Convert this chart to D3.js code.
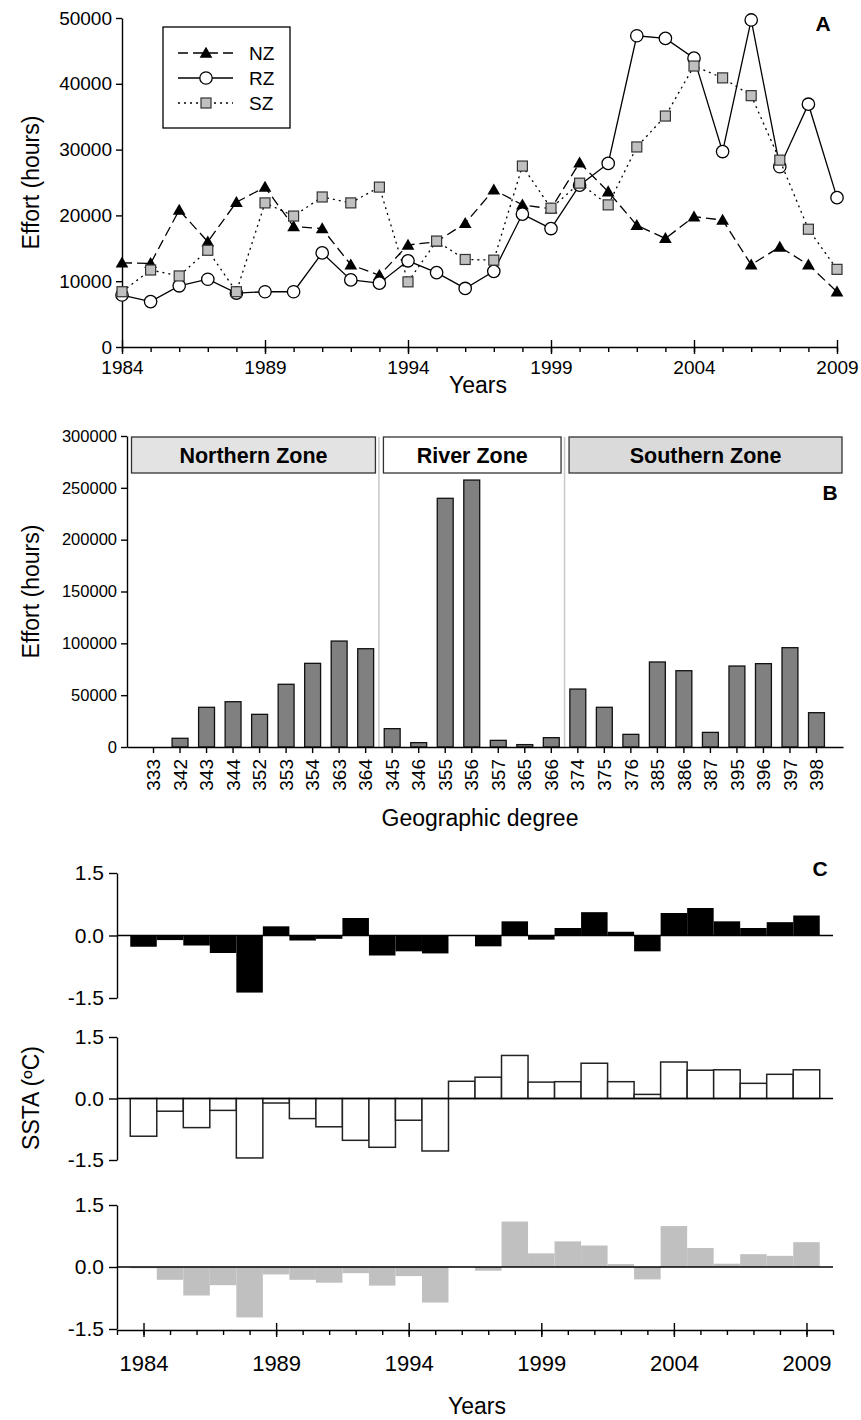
<!DOCTYPE html>
<html>
<head>
<meta charset="utf-8">
<script src="https://cdn.jsdelivr.net/npm/d3@7"></script>
<style>
  body { margin: 0; background: #fff; }
  svg text { font-family: "Liberation Sans", Arial, sans-serif; fill: #000; }
</style>
</head>
<body>
<script>
var w = 861;
var h = 1420;

// ---- data ----
var years = [1984,1985,1986,1987,1988,1989,1990,1991,1992,1993,1994,1995,1996,
             1997,1998,1999,2000,2001,2002,2003,2004,2005,2006,2007,2008,2009];

// Panel A: fishing effort by zone (hours)
var nzEffort = [12800,12700,20800,16000,22000,24300,18300,18000,12500,10900,15500,16000,18800,
                23900,21600,21000,28000,23600,18500,16500,19800,19300,12500,15200,12500,8400];
var rzEffort = [7900,6900,9300,10300,8200,8400,8400,14300,10200,9700,13100,11300,8900,
                11500,20200,18000,24600,27900,47300,46900,43900,29700,49700,27400,36900,22700];
var szEffort = [8400,11700,10800,14700,8400,21900,19900,22800,21900,24300,9900,16100,13300,
                13200,27500,21100,24900,21600,30400,35100,42700,40900,38200,28400,17900,11800];
var effortTicks = [0,10000,20000,30000,40000,50000];
var yearTicks = [1984,1989,1994,1999,2004,2009];

// Panel B: effort by geographic degree
var degrees = ["333","342","343","344","352","353","354","363","364",
               "345","346","355","356","357","365","366",
               "374","375","376","385","386","387","395","396","397","398"];
var degreeEffort = [0,8400,38300,43700,31500,60500,80700,102200,94800,
                    17700,4200,239900,257500,6400,2300,9000,
                    55900,38300,12200,82000,73600,14100,78100,80400,95800,33100];
var degreeTicks = [0,50000,100000,150000,200000,250000,300000];
var zones = ["Northern Zone","River Zone","Southern Zone"];
var zoneFirst = ["333","345","374"];
var zoneLast = ["364","366","398"];

// Panel C: SSTA (ºC) per zone
var sstaNZ = [-0.27,-0.11,-0.24,-0.42,-1.37,0.22,-0.12,-0.08,0.42,-0.48,-0.38,-0.43,0.01,
              -0.26,0.34,-0.10,0.18,0.56,0.09,-0.38,0.54,0.66,0.34,0.18,0.32,0.48];
var sstaRZ = [-0.92,-0.31,-0.71,-0.29,-1.45,-0.11,-0.49,-0.69,-1.02,-1.19,-0.53,-1.28,0.42,
              0.52,1.05,0.40,0.41,0.86,0.41,0.10,0.89,0.69,0.70,0.37,0.59,0.70];
var sstaSZ = [-0.03,-0.31,-0.69,-0.44,-1.22,-0.18,-0.31,-0.38,-0.15,-0.45,-0.22,-0.86,0.01,
              -0.09,1.10,0.33,0.62,0.52,0.07,-0.30,0.99,0.46,0.08,0.31,0.27,0.60];
var sstaTicks = [-1.5,0,1.5];

var titleFont = 23;
var plainNum = function(d) { return String(d); };
var oneDec = function(d) { return d.toFixed(1); };

var svg = d3.select("body")
            .append("svg")
            .attr("width", w)
            .attr("height", h);

// axis styling helper
function styleAxis(g, size) {
  g.selectAll("path, line").attr("stroke", "#000").attr("stroke-width", 1.4);
  g.selectAll("text").attr("font-size", size || 19)
    .attr("font-family", "'Liberation Sans', Arial, sans-serif").attr("fill", "#000");
}

// year axis with crossing major ticks and small minor ticks
function yearAxis(scale, yPos, minor, pad, size) {
  svg.append("g")
    .attr("transform", "translate(0," + yPos + ")")
    .call(d3.axisBottom(scale).tickValues(minor).tickSize(5).tickSizeOuter(0).tickFormat(""))
    .call(styleAxis);
  var g = svg.append("g")
    .attr("transform", "translate(0," + yPos + ")")
    .call(d3.axisBottom(scale).tickValues(yearTicks).tickSize(7).tickPadding(pad)
          .tickSizeOuter(0).tickFormat(plainNum))
    .call(styleAxis, size);
  g.select(".domain").remove();
  g.selectAll(".tick line").attr("y1", -7);
  return g;
}

// ================= Panel A =================
var xA = d3.scaleLinear().domain([1984, 2009]).range([122, 837]);
var yA = d3.scaleLinear().domain([0, 50000]).range([347, 18]);

svg.append("g")
  .attr("transform", "translate(122,0)")
  .call(d3.axisLeft(yA).tickValues(effortTicks).tickSize(6).tickSizeOuter(0).tickPadding(4)
        .tickFormat(plainNum))
  .call(styleAxis, 19);

yearAxis(xA, 347, years, 7, 19);

var seriesA = [
  {name: "NZ", values: nzEffort, dash: "10,5", shape: "tri"},
  {name: "RZ", values: rzEffort, dash: null, shape: "circle"},
  {name: "SZ", values: szEffort, dash: "2,4", shape: "square"}
];

var lineA = d3.line()
  .x(function(d, i) { return xA(years[i]); })
  .y(function(d) { return yA(d); });

function drawMarker(g, shape, x, y) {
  if (shape == "tri") {
    g.append("path")
      .attr("d", d3.symbol(d3.symbolTriangle, 70)())
      .attr("transform", "translate(" + x + "," + (y + 1) + ")")
      .attr("fill", "#000");
  } else if (shape == "circle") {
    g.append("circle").attr("cx", x).attr("cy", y).attr("r", 6.2)
      .attr("fill", "#fff").attr("stroke", "#000").attr("stroke-width", 1.3);
  } else {
    g.append("rect").attr("x", x - 5).attr("y", y - 5).attr("width", 10).attr("height", 10)
      .attr("fill", "#c0c0c0").attr("stroke", "#333").attr("stroke-width", 1.2);
  }
}

seriesA.forEach(function(s) {
  svg.append("path")
    .datum(s.values)
    .attr("d", lineA)
    .attr("fill", "none")
    .attr("stroke", "#000")
    .attr("stroke-width", 1.3)
    .attr("stroke-dasharray", s.dash);
  var mg = svg.append("g");
  s.values.forEach(function(v, i) { drawMarker(mg, s.shape, xA(years[i]), yA(v)); });
});

// legend
var leg = svg.append("g");
leg.append("rect").attr("x", 163).attr("y", 27).attr("width", 127).attr("height", 101)
  .attr("fill", "#fff").attr("stroke", "#000").attr("stroke-width", 1.3);
seriesA.forEach(function(s, i) {
  var ly = 53 + i * 25;
  leg.append("line").attr("x1", 178).attr("x2", 233).attr("y1", ly).attr("y2", ly)
    .attr("stroke", "#000").attr("stroke-width", 1.3).attr("stroke-dasharray", s.dash);
  drawMarker(leg, s.shape, 206, ly);
  leg.append("text").attr("x", 249).attr("y", ly).attr("dy", "0.35em")
    .attr("font-size", 19).text(s.name);
});

svg.append("text").attr("x", 823).attr("y", 31).attr("text-anchor", "middle")
  .attr("font-size", 21).attr("font-weight", "bold").text("A");

svg.append("text")
  .attr("transform", "translate(39," + yA(25000) + ") rotate(-90)")
  .attr("text-anchor", "middle").attr("font-size", titleFont).text("Effort (hours)");

svg.append("text").attr("x", 478).attr("y", 393).attr("text-anchor", "middle")
  .attr("font-size", titleFont).text("Years");

// ================= Panel B =================
var xB = d3.scaleBand().domain(degrees).range([127, 843]).paddingInner(0.4).paddingOuter(0.7);
var yB = d3.scaleLinear().domain([0, 300000]).range([747, 436]);
var stepB = xB.step();

// zone separators and header boxes
var bounds = [127];
zoneLast.forEach(function(c) { bounds.push(xB(c) + xB.bandwidth() / 2 + stepB / 2); });
bounds[bounds.length - 1] = 843;
var zoneColors = ["#e3e3e3", "#ffffff", "#dadada"];

[bounds[1], bounds[2]].forEach(function(bx) {
  svg.append("line").attr("x1", bx).attr("x2", bx).attr("y1", yB(300000) + 1).attr("y2", yB(0))
    .attr("stroke", "#c8c8c8").attr("stroke-width", 1.5);
});

zones.forEach(function(z, i) {
  var x0 = bounds[i] + 4.5;
  var x1 = bounds[i + 1] - (i == zones.length - 1 ? 1 : 3.5);
  svg.append("rect").attr("x", x0).attr("y", yB(300000) + 1).attr("width", x1 - x0).attr("height", 36)
    .attr("fill", zoneColors[i]).attr("stroke", "#333").attr("stroke-width", 1.3);
  svg.append("text").attr("x", (x0 + x1) / 2).attr("y", yB(300000) + 27)
    .attr("text-anchor", "middle").attr("font-size", 21.5).attr("font-weight", "bold").text(z);
});

svg.selectAll("rect.bar")
  .data(degreeEffort)
  .enter()
  .append("rect")
  .attr("class", "bar")
  .attr("x", function(d, i) { return xB(degrees[i]); })
  .attr("y", function(d) { return yB(d); })
  .attr("width", xB.bandwidth())
  .attr("height", function(d) { return yB(0) - yB(d); })
  .attr("fill", function(d) { return d > 0 ? "#808080" : "none"; })
  .attr("stroke", function(d) { return d > 0 ? "#111" : "none"; })
  .attr("stroke-width", 1.3);

svg.append("g")
  .attr("transform", "translate(127,0)")
  .call(d3.axisLeft(yB).tickValues(degreeTicks).tickSize(6).tickSizeOuter(0).tickPadding(4)
        .tickFormat(plainNum))
  .call(styleAxis, 16.5);

var gxB = svg.append("g")
  .attr("transform", "translate(0," + yB(0) + ")")
  .call(d3.axisBottom(xB).tickSize(6).tickSizeOuter(0))
  .call(styleAxis, 19);
gxB.selectAll("text")
  .attr("transform", "rotate(-90)")
  .attr("text-anchor", "end")
  .attr("x", -12).attr("y", 0).attr("dy", "0.35em");

svg.append("text").attr("x", 830).attr("y", 500).attr("text-anchor", "middle")
  .attr("font-size", 21).attr("font-weight", "bold").text("B");

svg.append("text")
  .attr("transform", "translate(39," + yB(150000) + ") rotate(-90)")
  .attr("text-anchor", "middle").attr("font-size", titleFont).text("Effort (hours)");

svg.append("text").attr("x", 480).attr("y", 826).attr("text-anchor", "middle")
  .attr("font-size", titleFont).text("Geographic degree");

// ================= Panel C =================
var xC = d3.scaleLinear().domain([1983, 2010]).range([117, 833]);
var panelsC = [
  {values: sstaNZ, range: [998, 873], fill: "#000", stroke: "none"},
  {values: sstaRZ, range: [1160, 1037], fill: "#fff", stroke: "#222"},
  {values: sstaSZ, range: [1329, 1205], fill: "#c0c0c0", stroke: "none"}
];

panelsC.forEach(function(p) {
  var yC = d3.scaleLinear().domain([-1.5, 1.5]).range(p.range);
  var g = svg.append("g");
  g.selectAll("rect")
    .data(p.values)
    .enter()
    .append("rect")
    .attr("x", function(d, i) { return xC(years[i] - 0.5); })
    .attr("width", function(d, i) { return xC(years[i] + 0.5) - xC(years[i] - 0.5); })
    .attr("y", function(d) { return Math.min(yC(d), yC(0)); })
    .attr("height", function(d) { return Math.abs(yC(d) - yC(0)); })
    .attr("fill", p.fill)
    .attr("stroke", p.stroke)
    .attr("stroke-width", 1.5);
  g.append("line").attr("x1", xC(1983)).attr("x2", xC(2010)).attr("y1", yC(0)).attr("y2", yC(0))
    .attr("stroke", "#000").attr("stroke-width", 1.5);
  svg.append("g")
    .attr("transform", "translate(117,0)")
    .call(d3.axisLeft(yC).tickValues(sstaTicks).tickSize(8).tickSizeOuter(0).tickPadding(5)
          .tickFormat(oneDec))
    .call(styleAxis, 21);
});

var minorC = [1983].concat(years).concat([2010]);
yearAxis(xC, 1330, minorC, 18, 22);

svg.append("text").attr("x", 820).attr("y", 876).attr("text-anchor", "middle")
  .attr("font-size", 21).attr("font-weight", "bold").text("C");

svg.append("text")
  .attr("transform", "translate(39,1098) rotate(-90)")
  .attr("text-anchor", "middle").attr("font-size", titleFont).text("SSTA (ºC)");

svg.append("text").attr("x", 477).attr("y", 1414).attr("text-anchor", "middle")
  .attr("font-size", titleFont).text("Years");
</script>
</body>
</html>
